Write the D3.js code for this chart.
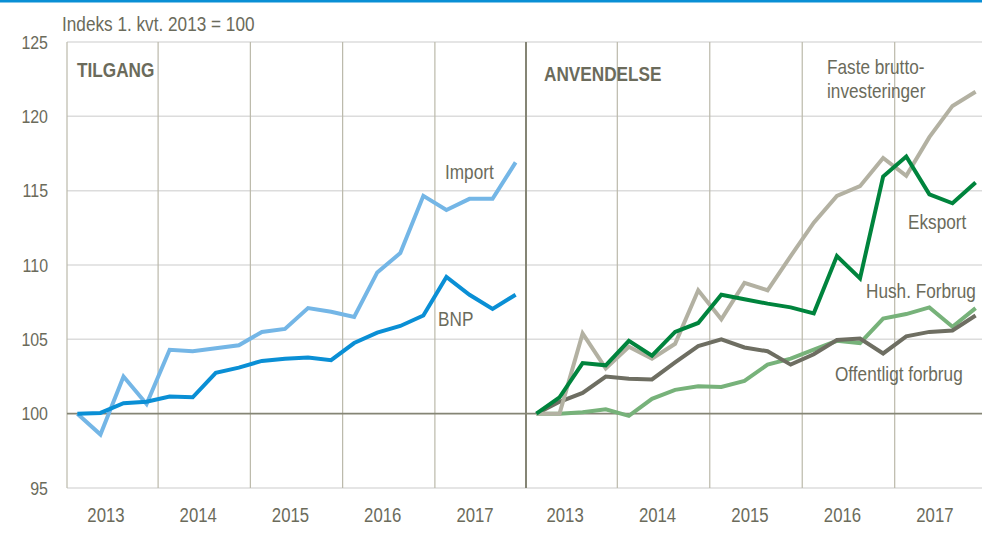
<!DOCTYPE html>
<html>
<head>
<meta charset="utf-8">
<script src="https://cdn.jsdelivr.net/npm/d3@7"></script>
<style>
  body { margin: 0; background: #fff; }
  text { font-family: "Liberation Sans", Arial, sans-serif; fill: #6b6b5b; }
</style>
</head>
<body>
<div id="chart"></div>
<script>
var years = ["2013", "2014", "2015", "2016", "2017"];
var quarters = [];
years.forEach(function (y) { for (var k = 1; k <= 4; k++) quarters.push(y + "K" + k); });
var yTicks = [95, 100, 105, 110, 115, 120, 125];

// Tilgang
var bnp = [100, 100.05, 100.7, 100.8, 101.15, 101.1, 102.75, 103.1, 103.55, 103.7,
  103.77, 103.6, 104.75, 105.45, 105.9, 106.6, 109.2, 108.0, 107.05, 108.0];
var imp = [100, 98.6, 102.5, 100.65, 104.3, 104.2, 104.4, 104.6, 105.5, 105.7,
  107.1, 106.85, 106.5, 109.5, 110.8, 114.65, 113.7, 114.45, 114.45, 116.9];

// Anvendelse
var eksport = [100, 101.1, 103.4, 103.25, 104.9, 103.9, 105.5, 106.1, 108.0, 107.7,
  107.4, 107.15, 106.75, 110.6, 109.1, 115.95, 117.3, 114.75, 114.15, 115.55];
var faste = [100, 100, 105.4, 103.05, 104.5, 103.7, 104.7, 108.3, 106.35, 108.8,
  108.3, 110.6, 112.85, 114.65, 115.3, 117.2, 116.0, 118.6, 120.7, 121.65];
var hush = [100, 100, 100.1, 100.3, 99.85, 101.0, 101.6, 101.85, 101.8, 102.2,
  103.3, 103.7, 104.3, 104.9, 104.75, 106.4, 106.7, 107.15, 105.85, 107.1];
var offentlig = [100, 100.8, 101.4, 102.5, 102.35, 102.3, 103.45, 104.55, 105.0, 104.45,
  104.2, 103.3, 104.0, 104.95, 105.05, 104.05, 105.2, 105.5, 105.6, 106.6];

var width = 982, height = 544;
var plotTop = 42, plotBottom = 488;
var left = 67, mid = 526, right = 986;
var narrow = 0.86;

var svg = d3.select("#chart").append("svg")
  .attr("width", width).attr("height", height);

svg.append("rect").attr("x", 0).attr("y", 0).attr("width", width).attr("height", 2.5)
  .attr("fill", "#0a8fd5");

var y = d3.scaleLinear().domain([95, 125]).range([plotBottom, plotTop]);

function xPanel(x0, x1) {
  return d3.scalePoint().domain(quarters).range([x0, x1]).padding(0.45);
}
var xL = xPanel(left, mid);
var xR = xPanel(mid, right);

function label(t, x, yy, size, opts) {
  var el = svg.append("text")
    .attr("transform", "translate(" + x + "," + yy + ") scale(" + narrow + ",1)")
    .style("font-size", size + "px")
    .text(t);
  if (opts && opts.bold) el.style("font-weight", "bold");
  if (opts && opts.anchor) el.attr("text-anchor", opts.anchor);
  return el;
}

/* horizontal grid */
svg.append("g").selectAll("line").data(yTicks.filter(function (d) { return d !== 100; }))
  .enter().append("line")
  .attr("x1", left).attr("x2", width)
  .attr("y1", function (d) { return y(d); }).attr("y2", function (d) { return y(d); })
  .attr("stroke", "#dcdcdc").attr("stroke-width", 1.5);

/* vertical year lines */
function yearLines(x, x0) {
  var xs = [x0];
  for (var k = 1; k < years.length; k++) {
    xs.push((x(quarters[4 * k - 1]) + x(quarters[4 * k])) / 2);
  }
  svg.append("g").selectAll("line").data(xs).enter().append("line")
    .attr("x1", function (d) { return d; }).attr("x2", function (d) { return d; })
    .attr("y1", plotTop).attr("y2", plotBottom)
    .attr("stroke", "#bbb9aa").attr("stroke-width", 1.2);

  years.forEach(function (d, i) {
    var cx = (x(quarters[4 * i]) + x(quarters[4 * i + 3])) / 2 - 6;
    label(d, cx, 522, 19.5, { anchor: "middle" });
  });
}
yearLines(xL, left);
yearLines(xR, mid);

/* baseline + divider */
svg.append("line").attr("x1", left).attr("x2", width)
  .attr("y1", y(100)).attr("y2", y(100))
  .attr("stroke", "#858575").attr("stroke-width", 1.8);
svg.append("line").attr("x1", mid).attr("x2", mid)
  .attr("y1", plotTop).attr("y2", plotBottom)
  .attr("stroke", "#858575").attr("stroke-width", 2);

/* y axis labels */
var yAxis = d3.axisLeft(y).tickValues(yTicks).tickSize(0).tickPadding(0);
var ga = svg.append("g").attr("transform", "translate(48,0)").call(yAxis);
ga.select(".domain").remove();
ga.attr("font-family", null).attr("font-size", null);
ga.selectAll("text")
  .attr("fill", null)
  .style("font-size", "19px")
  .attr("transform", "scale(0.84,1)");

/* lines */
function drawLine(x, values, color, w) {
  var line = d3.line()
    .x(function (d, i) { return x(quarters[i]); })
    .y(function (d) { return y(d); });
  svg.append("path").datum(values)
    .attr("d", line)
    .attr("fill", "none")
    .attr("stroke", color)
    .attr("stroke-width", w)
    .attr("stroke-linejoin", "miter");
}
drawLine(xL, imp, "#74b6e6", 4);
drawLine(xL, bnp, "#0a8fd5", 4);
drawLine(xR, hush, "#77b27a", 4);
drawLine(xR, offentlig, "#6e6e62", 4);
drawLine(xR, faste, "#b3b1a2", 4);
drawLine(xR, eksport, "#00843d", 4);

/* texts */
label("Indeks 1. kvt. 2013 = 100", 62, 31, 20);
label("TILGANG", 77, 77, 20, { bold: true });
label("ANVENDELSE", 544, 81, 20, { bold: true });
label("Import", 445, 179, 20);
label("BNP", 438, 326, 20);
label("Faste brutto-", 827, 74, 20);
label("investeringer", 827, 98, 20);
label("Eksport", 908, 229, 20);
label("Hush. Forbrug", 866, 298, 20);
label("Offentligt forbrug", 835, 381, 20);
</script>
</body>
</html>
